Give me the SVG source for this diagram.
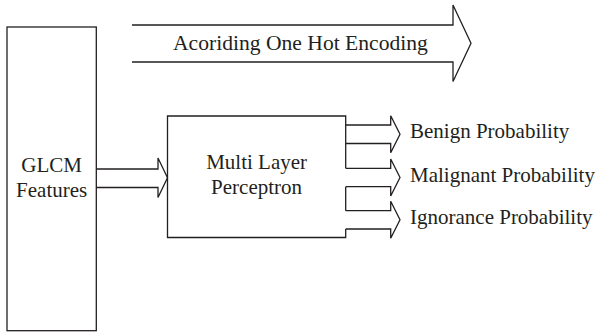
<svg xmlns="http://www.w3.org/2000/svg" width="599" height="334" viewBox="0 0 599 334">
<style>
.ln{fill:none;stroke:#231f20;stroke-width:1.3;stroke-linejoin:miter}
.t{font-family:"Liberation Serif","DejaVu Serif",serif;font-size:21px;fill:#231f20}
.c{text-anchor:middle}
</style>
<rect width="599" height="334" fill="#fff"/>
<g id="glcm">
<rect class="ln" x="7" y="27" width="89.3" height="303.7"/>
<text class="t c" x="51.7" y="171.5">GLCM</text>
<text class="t c" x="51.7" y="197">Features</text>
</g>
<g id="encoding">
<path class="ln" d="M132,25 H453 V5 L471,43.3 L453,81.5 V62 H132"/>
<text class="t" x="173" y="50" style="font-size:21.6px">Acoriding One Hot Encoding</text>
</g>
<g id="mlp">
<path class="ln" d="M345.7,168.3 V116 H167.5 V237.5 H345.7 V229 M345.7,186.7 V210.7"/>
<text class="t c" x="256.6" y="169">Multi Layer</text>
<text class="t c" x="256.6" y="194.3">Perceptron</text>
</g>
<g id="benign"><text class="t" x="410" y="138">Benign Probability</text></g>
<g id="malignant"><text class="t" x="410" y="182">Malignant Probability</text></g>
<g id="ignorance"><text class="t" x="410" y="224">Ignorance Probability</text></g>
<g id="connectors">
<path class="ln" d="M96.3,169 H158 V158 L167.5,177.8 L158,197.5 V187.5 H96.3"/>
<path class="ln" d="M345.7,125 H390.7 V115.8 L400,134.3 L390.7,152.8 V143.5 H345.7"/>
<path class="ln" d="M345.7,168.3 H390.7 V159 L400,177.5 L390.7,196 V186.7 H345.7"/>
<path class="ln" d="M345.7,210.7 H390.7 V201.3 L400,219.8 L390.7,238.3 V229 H345.7"/>
</g>
</svg>
